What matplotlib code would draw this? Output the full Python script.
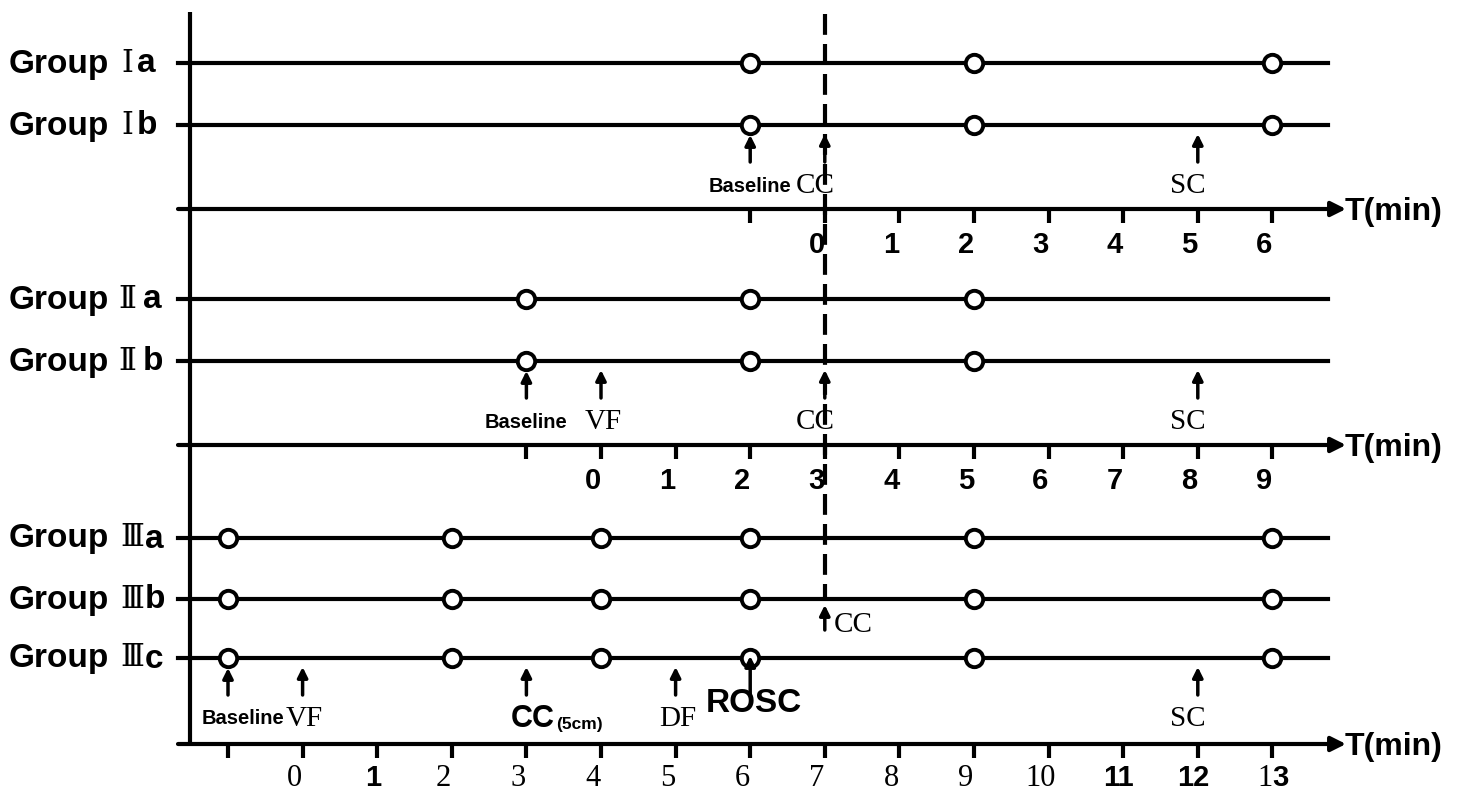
import matplotlib
matplotlib.use('Agg')
import matplotlib.pyplot as plt

# ---- data (minutes on each group's own time axis) ----
group_numerals = ['Ⅰ', 'Ⅱ', 'Ⅲ']
group_rows = [['a', 'b'], ['a', 'b'], ['a', 'b', 'c']]
# shift of each group's time axis onto the common (group III) axis
group_shift = [7, 4, 0]

samples_I = [-1, 2, 6]
samples_II = [-1, 2, 5]
samples_III = [-1, 2, 4, 6, 9, 13]

events_I = ['Baseline', 'CC', 'SC']
event_min_I = [-1, 0, 5]
events_II = ['Baseline', 'VF', 'CC', 'SC']
event_min_II = [-1, 0, 3, 8]
events_III = ['Baseline', 'VF', 'CC', 'DF', 'ROSC', 'SC']
event_min_III = [-1, 0, 3, 5, 6, 12]

ticks_I = list(range(-1, 7))
ticks_II = list(range(-1, 10))
ticks_III = list(range(-1, 14))
bold_ticks_III = [1, 11, 12]

cc_line_min = 7          # dashed line / CC in group III
cc_IIIb_min = 7

# ---- layout (pixels) ----
W, H = 1467, 792
X0_PX, UNIT = 228, 74.6     # pixel of minute -1, pixels per minute


def px(p):
    return -1 + (p - X0_PX) / UNIT


row_y = [[63, 125], [299, 361], [538, 599, 658]]
axis_y = [209, 445, 744]
numeral_px = [127, 127, 132]
letter_px = [137, 143, 145]

fig = plt.figure(figsize=(W / 100, H / 100), dpi=100)
ax = fig.add_axes([0, 0, 1, 1])
ax.set_xlim(px(0), px(W))
ax.set_ylim(H, 0)
ax.axis('off')

SANS = 'Liberation Sans'
SERIF = 'Liberation Serif'
LW = 3

# vertical axis
ax.plot([px(190), px(190)], [12, 745], color='k', lw=LW, solid_capstyle='butt')

samples = [samples_I, samples_II, samples_III]
ticks = [ticks_I, ticks_II, ticks_III]
events = [events_I, events_II, events_III]
event_mins = [event_min_I, event_min_II, event_min_III]

for g in range(3):
    sh = group_shift[g]
    # group rows
    for r, letter in enumerate(group_rows[g]):
        y = row_y[g][r]
        ax.plot([px(178), px(1328)], [y, y], color='k', lw=LW, zorder=2)
        xs = [m + sh for m in samples[g]]
        ax.plot(xs, [y] * len(xs), 'o', ms=12.5, mfc='white', mec='k',
                mew=2.8, zorder=4)
        ax.text(px(9), y + 1, 'Group', fontsize=24, fontweight='bold',
                family=SANS, ha='left', va='center')
        ax.text(px(numeral_px[g]), y, group_numerals[g], fontsize=22,
                family='DejaVu Serif', ha='center', va='center')
        ax.text(px(letter_px[g]), y + 1, letter, fontsize=24,
                fontweight='bold', family=SANS, ha='left', va='center')

    # time axis with arrow
    ya = axis_y[g]
    ax.annotate('', xy=(px(1346), ya), xytext=(px(178), ya),
                arrowprops=dict(arrowstyle='-|>', color='k', lw=LW,
                                mutation_scale=22, shrinkA=0, shrinkB=0))
    ax.text(px(1345), ya + 3, 'T(min)', fontsize=23, fontweight='bold',
            family=SANS, ha='left', va='center')
    for t in ticks[g]:
        x = t + sh
        ax.plot([x, x], [ya, ya + 14], color='k', lw=LW,
                solid_capstyle='butt')
        if t < 0:
            continue
        ly = ya + 36 if g < 2 else ya + 34
        if g < 2:
            ax.text(x - 0.11, ly, str(t), fontsize=21, fontweight='bold',
                    family=SANS, ha='center', va='center')
        elif t in bold_ticks_III:
            ax.text(x - 0.06, ly, str(t), fontsize=21, fontweight='bold',
                    family=SANS, ha='center', va='center')
        elif t == 13:
            ax.text(x, ly, '1', fontsize=22, family=SERIF,
                    ha='right', va='center')
            ax.text(x, ly, '3', fontsize=21, fontweight='bold',
                    family=SANS, ha='left', va='center')
        else:
            ax.text(x - 0.11, ly, str(t), fontsize=22, family=SERIF,
                    ha='center', va='center')

    # event arrows and labels
    last = row_y[g][-1]
    for name, m in zip(events[g], event_mins[g]):
        x = m + sh
        tip = last + (10 if m in samples[g] else 9)
        if name == 'ROSC':
            tip = last - 2
        ax.annotate('', xy=(x, tip), xytext=(x, last + 37),
                    arrowprops=dict(arrowstyle='-|>', color='k', lw=2.5,
                                    mutation_scale=15, shrinkA=0, shrinkB=0),
                    zorder=5)
        ly = last + 61
        if name == 'Baseline':
            dx = 15 if g == 2 else 0
            ax.text(x + dx / UNIT, ly, name, fontsize=14.5, fontweight='bold',
                    family=SANS, ha='center', va='center')
        elif name == 'ROSC':
            ax.text(x + 4 / UNIT, last + 45, name, fontsize=24,
                    fontweight='bold', family=SANS, ha='center', va='center')
        elif name == 'CC' and g == 2:
            ax.text(x + 28 / UNIT, ly, 'CC', fontsize=22, fontweight='bold',
                    family=SANS, ha='right', va='center')
            ax.text(x + 30 / UNIT, ly + 6, '(5cm)', fontsize=12.5,
                    fontweight='bold', family=SANS, ha='left', va='center')
        else:
            dx = -10 if name in ('SC', 'CC') else 2
            ax.text(x + dx / UNIT, ly, name, fontsize=21, family=SERIF,
                    ha='center', va='center')

# CC arrow under Group IIIb
yb = row_y[2][1]
ax.annotate('', xy=(cc_IIIb_min, yb + 6), xytext=(cc_IIIb_min, yb + 31),
            arrowprops=dict(arrowstyle='-|>', color='k', lw=2.5,
                            mutation_scale=15, shrinkA=0, shrinkB=0),
            zorder=5)
ax.text(cc_IIIb_min + 9 / UNIT, yb + 26, 'CC', fontsize=21, family=SERIF,
        ha='left', va='center')

# dashed line at the start of chest compressions
ax.plot([cc_line_min, cc_line_min], [14, 598], color='k', lw=LW,
        linestyle=(0, (5, 2.2)), zorder=3)

fig.savefig('out.png', dpi=100, facecolor='white')
plt.close(fig)
